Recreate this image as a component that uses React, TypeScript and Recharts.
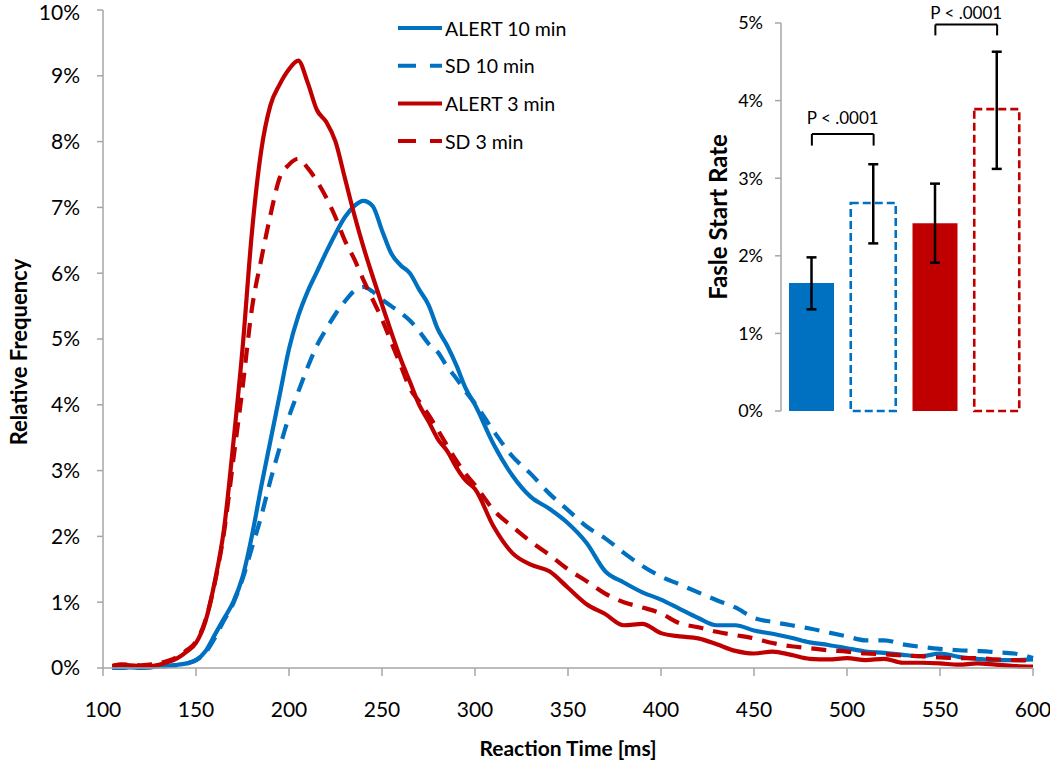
import React from "react";
import {
  LineChart,
  Line,
  XAxis,
  YAxis,
  Legend,
  BarChart,
  Bar,
  Cell,
  ErrorBar,
  ReferenceLine,
} from "recharts";

const BLUE = "#0070C0";
const RED = "#C00000";
const AXIS = "#A6A6A6";
const FONT = "Lato, 'Open Sans', sans-serif";

// reaction time grid (ms)
const reactionTime = [
  105, 110, 115, 120, 125, 130, 135, 140, 145, 150,
  155, 160, 165, 170, 175, 180, 185, 190, 195, 200,
  205, 210, 215, 220, 225, 230, 235, 240, 245, 250,
  255, 260, 265, 270, 275, 280, 285, 290, 295, 300,
  310, 320, 330, 340, 350, 360, 370, 380, 390, 400,
  410, 420, 430, 440, 450, 460, 470, 480, 490, 500,
  510, 520, 530, 540, 550, 560, 570, 580, 590, 600,
];

// relative frequency (%)
const alert10 = [
  0.0, 0.01, 0.01, 0.0, 0.01, 0.02, 0.03, 0.05, 0.07, 0.12,
  0.25, 0.5, 0.75, 1.0, 1.38, 2.0, 2.75, 3.45, 4.15, 4.85,
  5.35, 5.72, 6.02, 6.32, 6.6, 6.85, 7.02, 7.1, 7.02, 6.65,
  6.3, 6.12, 6.0, 5.75, 5.52, 5.15, 4.9, 4.6, 4.25, 4.0,
  3.4, 2.93, 2.6, 2.42, 2.2, 1.9, 1.47, 1.3, 1.15, 1.04,
  0.9, 0.76, 0.65, 0.65, 0.57, 0.52, 0.46, 0.39, 0.35, 0.3,
  0.25, 0.23, 0.2, 0.18, 0.22, 0.17, 0.14, 0.12, 0.12, 0.13,
];
const sd10 = [
  0.0, 0.0, 0.01, 0.01, 0.01, 0.02, 0.03, 0.04, 0.07, 0.12,
  0.23, 0.45, 0.72, 0.98, 1.35, 1.82, 2.3, 2.85, 3.35, 3.82,
  4.2, 4.57, 4.9, 5.15, 5.38, 5.57, 5.73, 5.79, 5.72, 5.6,
  5.5, 5.4, 5.28, 5.12, 4.93, 4.8, 4.58, 4.4, 4.2, 4.02,
  3.6, 3.22, 2.95, 2.65, 2.4, 2.15, 1.97, 1.75, 1.55, 1.39,
  1.27, 1.15, 1.03, 0.92, 0.76, 0.7, 0.65, 0.6, 0.54, 0.48,
  0.42, 0.42, 0.36, 0.32, 0.29, 0.27, 0.26, 0.24, 0.22, 0.15,
];
const alert3 = [
  0.03, 0.05, 0.04, 0.03, 0.03, 0.05, 0.09, 0.15, 0.25, 0.38,
  0.7, 1.3, 2.1, 3.4, 4.85, 6.6, 7.85, 8.55, 8.87, 9.1,
  9.23, 8.9, 8.48, 8.3, 8.0, 7.45, 6.9, 6.4, 5.95, 5.52,
  5.1, 4.7, 4.35, 4.0, 3.75, 3.48, 3.3, 3.05, 2.85, 2.72,
  2.15, 1.75, 1.57, 1.47, 1.22, 0.97, 0.82, 0.65, 0.67, 0.53,
  0.48, 0.45, 0.36, 0.26, 0.22, 0.25, 0.2, 0.14, 0.13, 0.15,
  0.12, 0.14, 0.08, 0.08, 0.07, 0.05, 0.07, 0.05, 0.03, 0.02,
];
const sd3 = [
  0.03, 0.05, 0.05, 0.04, 0.05, 0.07, 0.11, 0.17, 0.27, 0.4,
  0.72, 1.28, 2.05, 3.15, 4.25, 5.45, 6.2, 6.88, 7.45, 7.65,
  7.74, 7.6, 7.4, 7.15, 6.85, 6.5, 6.22, 5.9, 5.6, 5.3,
  4.95, 4.6, 4.25, 4.05, 3.85, 3.62, 3.38, 3.15, 2.95, 2.78,
  2.4, 2.15, 1.92, 1.72, 1.5, 1.32, 1.13, 1.0, 0.92, 0.83,
  0.68, 0.62, 0.55, 0.5, 0.45, 0.38, 0.33, 0.3, 0.27, 0.25,
  0.22, 0.21, 0.19, 0.18, 0.16, 0.15, 0.15, 0.13, 0.12, 0.11,
];

const xTicks = [100, 150, 200, 250, 300, 350, 400, 450, 500, 550, 600];
const yTicks = [0, 1, 2, 3, 4, 5, 6, 7, 8, 9, 10];

// inset: false start rate (%)
const conditions = ["ALERT 10 min", "SD 10 min", "ALERT 3 min", "SD 3 min"];
const falseStartRate = [1.65, 2.68, 2.42, 3.89];
const errMinus = [0.34, 0.52, 0.51, 0.77];
const errPlus = [0.33, 0.5, 0.51, 0.74];
const insetTicks = [0, 1, 2, 3, 4, 5];
const pLabel = "P < .0001";

const series = [
  { key: "alert10", name: "ALERT 10 min", color: BLUE, dashed: false },
  { key: "sd10", name: "SD 10 min", color: BLUE, dashed: true },
  { key: "alert3", name: "ALERT 3 min", color: RED, dashed: false },
  { key: "sd3", name: "SD 3 min", color: RED, dashed: true },
];

const lineData = reactionTime.map((t, i) => ({
  t,
  alert10: alert10[i],
  sd10: sd10[i],
  alert3: alert3[i],
  sd3: sd3[i],
}));

const barData = conditions.map((c, i) => ({
  name: c,
  rate: falseStartRate[i],
  err: [errMinus[i], errPlus[i]],
}));

function LegendBox() {
  return (
    <svg width={200} height={160} style={{ fontFamily: FONT }}>
      {series.map((s, i) => {
        const y = 28 + i * 37.7;
        return (
          <g key={s.key}>
            <line
              x1={8}
              x2={52}
              y1={y}
              y2={y}
              stroke={s.color}
              strokeWidth={4}
              strokeDasharray={s.dashed ? "18 14" : undefined}
            />
            <text x={55} y={y} dominantBaseline="central" fontSize={19.5} fill="#000">
              {s.name}
            </text>
          </g>
        );
      })}
    </svg>
  );
}

// rotated axis title, placed from the axis viewBox
const verticalTitle = (text: string, dx: number, shiftY: number, size: number) => (props: any) => {
  const vb = props.viewBox || { x: 0, y: 0, width: 0, height: 0 };
  const cx = vb.x + dx;
  const cy = vb.y + vb.height / 2 + shiftY;
  return (
    <text
      x={cx}
      y={cy}
      transform={`rotate(-90 ${cx} ${cy})`}
      textAnchor="middle"
      dominantBaseline="central"
      fontSize={size}
      fontWeight={700}
      fill="#000"
      fontFamily={FONT}
    >
      {text}
    </text>
  );
};

const tickStyle = { fill: "#000", fontSize: 21, fontFamily: FONT };
const pStyle = { fontSize: 17, fill: "#000", fontFamily: FONT };

export default function App() {
  return (
    <div style={{ position: "absolute", left: 0, top: 0, width: 1050, height: 762, background: "#fff" }}>
      <LineChart
        width={1050}
        height={762}
        data={lineData}
        margin={{ top: 10, right: 17, left: 0, bottom: 0 }}
        style={{ fontFamily: FONT }}
      >
        <XAxis
          dataKey="t"
          type="number"
          domain={[100, 600]}
          ticks={xTicks}
          height={94}
          tickSize={8}
          tickMargin={26}
          stroke={AXIS}
          strokeWidth={1.5}
          tick={tickStyle}
          label={{
            value: "Reaction Time [ms]",
            position: "insideBottom",
            offset: 6,
            style: { fontSize: 21, fontWeight: 700, fill: "#000", fontFamily: FONT },
          }}
        />
        <YAxis
          domain={[0, 10]}
          ticks={yTicks}
          width={103}
          tickSize={6}
          tickMargin={17}
          stroke={AXIS}
          strokeWidth={1.5}
          tick={tickStyle}
          tickFormatter={(v: number) => `${v}%`}
          label={{ content: verticalTitle("Relative Frequency", 18, 13, 22) }}
        />
        {series.map((s) => (
          <Line
            key={s.key}
            type="monotone"
            dataKey={s.key}
            name={s.name}
            stroke={s.color}
            strokeWidth={4.2}
            strokeDasharray={s.dashed ? "15 10" : undefined}
            dot={false}
            isAnimationActive={false}
          />
        ))}
        <Legend
          layout="vertical"
          align="center"
          verticalAlign="middle"
          wrapperStyle={{ left: 390, top: 0, width: 200 }}
          content={() => <LegendBox />}
        />
      </LineChart>

      <div style={{ position: "absolute", left: 690, top: 0 }}>
        <BarChart
          width={360}
          height={430}
          data={barData}
          margin={{ top: 23, right: 22, left: 0, bottom: 19 }}
          style={{ fontFamily: FONT }}
        >
          <XAxis dataKey="name" hide />
          <YAxis
            domain={[0, 5]}
            ticks={insetTicks}
            width={91}
            tickSize={6}
            tickMargin={12}
            stroke={AXIS}
            strokeWidth={1.5}
            tick={{ fill: "#000", fontSize: 18, fontFamily: FONT }}
            tickFormatter={(v: number) => `${v}%`}
            label={{ content: verticalTitle("Fasle Start Rate", 27, 0, 24) }}
          />
          <Bar dataKey="rate" barSize={45} isAnimationActive={false}>
            {barData.map((d, i) => {
              const s = series[i];
              return (
                <Cell
                  key={d.name}
                  fill={s.dashed ? "#fff" : s.color}
                  stroke={s.dashed ? s.color : "none"}
                  strokeWidth={s.dashed ? 2.6 : 0}
                  strokeDasharray={s.dashed ? "8 4" : undefined}
                />
              );
            })}
            <ErrorBar dataKey="err" width={5} strokeWidth={2.5} stroke="#000" direction="y" isAnimationActive={false} />
          </Bar>
          <ReferenceLine
            segment={[{ x: conditions[0], y: 3.57 }, { x: conditions[1], y: 3.57 }]}
            stroke="#000"
            strokeWidth={2}
            label={{ value: pLabel, position: "top", offset: 10, style: pStyle }}
          />
          <ReferenceLine segment={[{ x: conditions[0], y: 3.42 }, { x: conditions[0], y: 3.57 }]} stroke="#000" strokeWidth={2} />
          <ReferenceLine segment={[{ x: conditions[1], y: 3.42 }, { x: conditions[1], y: 3.57 }]} stroke="#000" strokeWidth={2} />
          <ReferenceLine
            segment={[{ x: conditions[2], y: 4.98 }, { x: conditions[3], y: 4.98 }]}
            stroke="#000"
            strokeWidth={2}
            label={{ value: pLabel, position: "top", offset: 6, style: pStyle }}
          />
          <ReferenceLine segment={[{ x: conditions[2], y: 4.84 }, { x: conditions[2], y: 4.98 }]} stroke="#000" strokeWidth={2} />
          <ReferenceLine segment={[{ x: conditions[3], y: 4.84 }, { x: conditions[3], y: 4.98 }]} stroke="#000" strokeWidth={2} />
        </BarChart>
      </div>
    </div>
  );
}
